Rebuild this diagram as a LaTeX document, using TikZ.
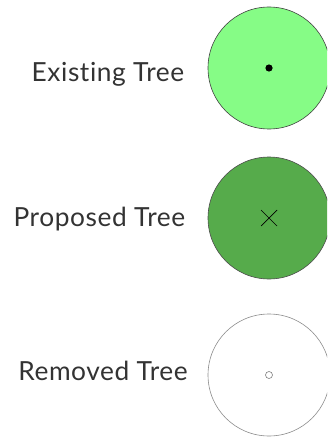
\documentclass[tikz,border=0pt]{standalone}
\usepackage{fontspec}
\setmainfont[Ligatures=NoCommon, LetterSpace=2.2]{Lato}
\definecolor{lightgreen}{HTML}{86FC86}
\definecolor{darkgreen}{HTML}{56AB4B}
\definecolor{txt}{HTML}{333333}
\begin{document}
\begin{tikzpicture}[x=1pt,y=-1pt,
  lbl/.style={anchor=base east, inner sep=0pt, text=txt, font=\fontsize{26.3}{30}\selectfont},
  tree/.style={circle, minimum size=122pt, inner sep=0pt, line width=0.6pt}]
\useasboundingbox (0,0) rectangle (327,441);
\begin{scope}
\clip (0,0) rectangle (327,441);
\node[tree, draw=black!75, fill=lightgreen] (c1) at (269,68) {};
\node[tree, draw=black!70, fill=darkgreen] (c2) at (269,218) {};
\node[tree, draw=black!45, fill=white] (c3) at (269,375) {};
\end{scope}
\fill[black] (c1.center) circle (3.6);
\draw[line width=0.7pt] ([shift={(-8,-8)}]c2.center) -- ([shift={(8,8)}]c2.center)
  ([shift={(-8,8)}]c2.center) -- ([shift={(8,-8)}]c2.center);
\draw[black!50, line width=0.6pt] (c3.center) circle (3.5);
\node[lbl] (t1) at (184.5,82) {Existing Tree};
\node[lbl] (t2) at (185.5,226) {Proposed Tree};
\node[lbl] (t3) at (188,380) {Removed Tree};
\end{tikzpicture}
\end{document}
